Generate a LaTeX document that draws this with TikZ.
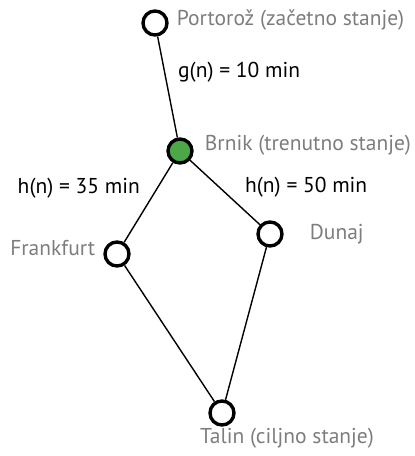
\documentclass[tikz,border=0pt]{standalone}
\usepackage{fontspec}
\setmainfont{PT Sans}
\usetikzlibrary{positioning}

\definecolor{cityGray}{RGB}{125,125,125}
\definecolor{nowGreen}{RGB}{76,168,70}

\begin{document}
\begin{tikzpicture}[x=1pt,y=1pt,
  st/.style={circle,draw=black,line width=3.4pt,fill=white,minimum size=24pt,inner sep=0pt},
  cur/.style={st,fill=nowGreen},
  city/.style={font=\fontsize{21.5}{24}\selectfont,text=cityGray,inner sep=0pt},
  cost/.style={font=\fontsize{21.5}{24}\selectfont,text=black,inner sep=0pt},
  edge/.style={line width=1.4pt}]
\useasboundingbox (0,0) rectangle (415,456);
% states
\node[st]  (P) at (155,433) {};
\node[cur] (B) at (180,305) {};
\node[st]  (F) at (117,202) {};
\node[st]  (D) at (270,222) {};
\node[st]  (T) at (222,43) {};
% connections
\draw[edge] (P) -- (B);
\draw[edge] (B) -- (F);
\draw[edge] (B) -- (D);
\draw[edge] (F) -- (T);
\draw[edge] (D) -- (T);
% city names
\node[city,right=8pt of P,yshift=3pt] (lP) {Portorož (začetno stanje)};
\node[city,right=11pt of B,yshift=6pt] (lB) {Brnik (trenutno stanje)};
\node[city,left=8pt of F,yshift=6pt] (lF) {Frankfurt};
\node[city,right=26pt of D] (lD) {Dunaj};
\node[city,anchor=north west] (lT) at (200,28) {Talin (ciljno stanje)};
% costs
\node[cost,anchor=west] (g) at (178,384) {g(n) = 10 min};
\node[cost,anchor=east] (h1) at (140,268) {h(n) = 35 min};
\node[cost,anchor=west] (h2) at (245,269) {h(n) = 50 min};
\end{tikzpicture}
\end{document}
